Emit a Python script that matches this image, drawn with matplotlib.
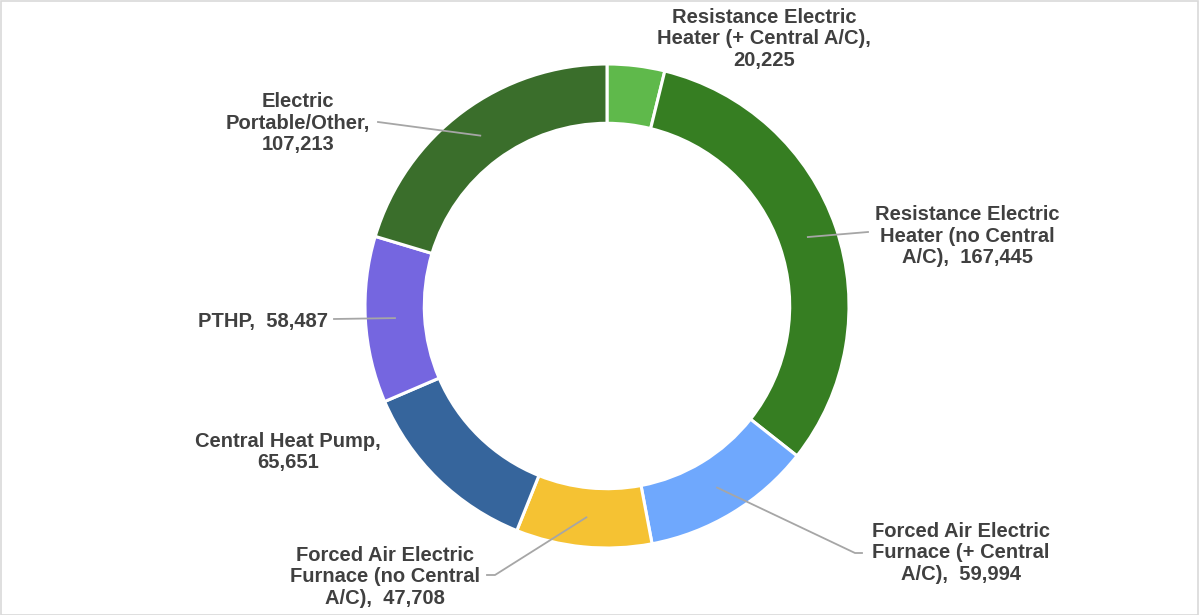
import matplotlib
matplotlib.use("Agg")
import matplotlib.pyplot as plt
import numpy as np
from matplotlib.patches import Rectangle

categories = [
    "Resistance Electric\nHeater (+ Central A/C),\n20,225",
    "Resistance Electric\nHeater (no Central\nA/C),  167,445",
    "Forced Air Electric\nFurnace (+ Central\nA/C),  59,994",
    "Forced Air Electric\nFurnace (no Central\nA/C),  47,708",
    "Central Heat Pump,\n65,651",
    "PTHP,  58,487",
    "Electric\nPortable/Other,\n107,213",
]
values = [20225, 167445, 59994, 47708, 65651, 58487, 107213]
colors = ["#5FB94B", "#367E22", "#6FA8FD", "#F5C233", "#36659C", "#7566E0", "#3A6E2B"]

W, H = 1199, 615
fig = plt.figure(figsize=(W / 100, H / 100), dpi=100)
ax = fig.add_axes([0, 0, 1, 1])
ax.set_xlim(0, W)
ax.set_ylim(0, H)
ax.set_aspect("equal")
ax.axis("off")

def P(x, y):
    return (x, H - y)

cx, cy = P(607, 306)
R = 242
width = 0.245
wedges, _ = ax.pie(values, colors=colors, startangle=90, counterclock=False,
                   radius=R, center=(cx, cy),
                   wedgeprops=dict(width=R * width, edgecolor="white", linewidth=2.2))
ax.set_xlim(0, W)
ax.set_ylim(0, H)

# label layout: (text center px, alignment, leader end points px or None)
layout = [
    dict(xy=(764, 39), ha="center", lead=None),
    dict(xy=(967, 236), ha="center", lead=[(868, 232)]),
    dict(xy=(961, 553), ha="center", lead=[(855, 553), (862, 553)]),
    dict(xy=(385, 577), ha="center", lead=[(495, 575), (487, 575)]),
    dict(xy=(288, 452), ha="center", lead=None),
    dict(xy=(328, 321), ha="right", lead=[(334, 319)]),
    dict(xy=(298, 123), ha="center", lead=[(378, 122)]),
]

tc = "#404040"
lc = "#A6A6A6"
rmid = R * (1 - width / 2)
for w, lab, lay in zip(wedges, categories, layout):
    x, y = P(*lay["xy"])
    ax.text(x, y, lab, ha=lay["ha"], va="center", ma="center",
            fontsize=14.5, fontweight="bold", family=["Liberation Sans", "DejaVu Sans"],
            color=tc, linespacing=1.16)
    if lay["lead"]:
        ang = np.deg2rad((w.theta1 + w.theta2) / 2)
        pts = [(cx + rmid * np.cos(ang), cy + rmid * np.sin(ang))] + [P(*p) for p in lay["lead"]]
        xs, ys = zip(*pts)
        ax.plot(xs, ys, color=lc, lw=1.3, zorder=5)

fig.patches.append(Rectangle((0.5 / W, 0.5 / H), 1 - 1.5 / W, 1 - 1.5 / H,
                             transform=fig.transFigure, fill=False,
                             edgecolor="#D9D9D9", lw=1.2))
fig.savefig("out.png", dpi=100, facecolor="white")
